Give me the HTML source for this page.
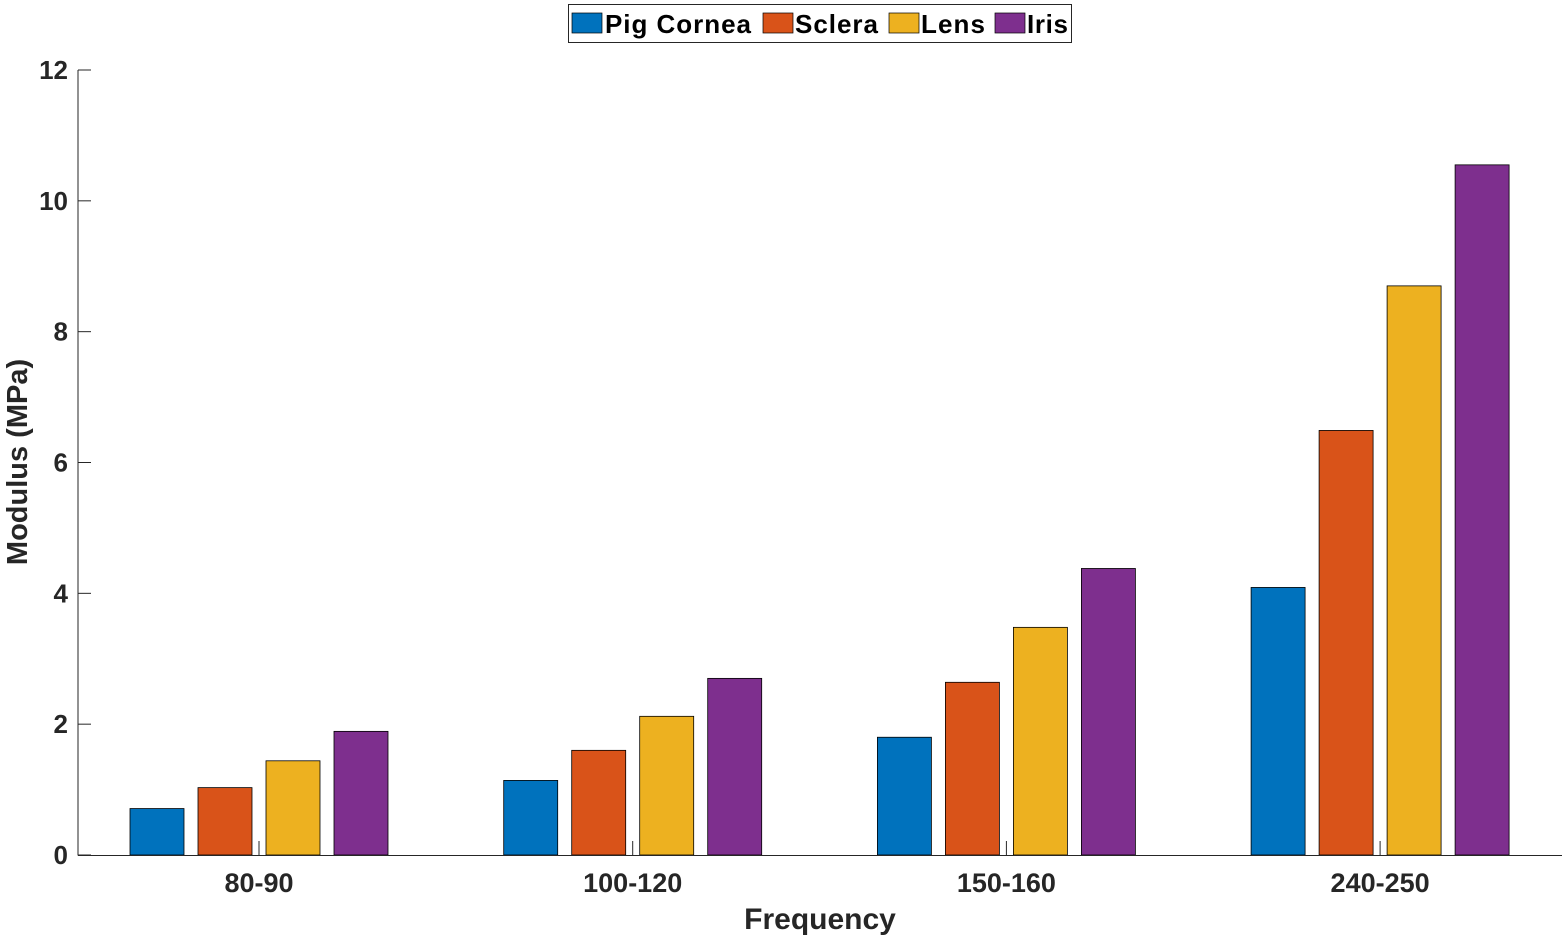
<!DOCTYPE html>
<html><head><meta charset="utf-8"><style>
html,body{margin:0;padding:0;background:#fff;}
svg{display:block;font-family:"Liberation Sans",Arial,sans-serif;}
</style></head><body>
<svg id="chart" width="1568" height="939" viewBox="0 0 1568 939" xmlns="http://www.w3.org/2000/svg">
<g id="bars"></g>
<g id="axes"></g>
<text x="820" y="929" font-size="30" font-weight="bold" text-anchor="middle" fill="#262626">Frequency</text>
<text transform="translate(27,462) rotate(-90)" font-size="29" font-weight="bold" text-anchor="middle" fill="#262626">Modulus (MPa)</text>
<g>
<rect x="568.5" y="4.5" width="503" height="38" fill="#fff" stroke="#262626" stroke-width="1"/>
<rect x="572" y="13" width="30" height="20" fill="#0072BD" stroke="#000" stroke-width="0.7"/>
<text x="605" y="33" font-size="26" font-weight="bold" textLength="146">Pig Cornea</text>
<rect x="763" y="13" width="30" height="20" fill="#D95319" stroke="#000" stroke-width="0.7"/>
<text x="795" y="33" font-size="26" font-weight="bold" textLength="83">Sclera</text>
<rect x="889" y="13" width="30" height="20" fill="#EDB120" stroke="#000" stroke-width="0.7"/>
<text x="921" y="33" font-size="26" font-weight="bold" textLength="64">Lens</text>
<rect x="995" y="13" width="30" height="20" fill="#7E2F8E" stroke="#000" stroke-width="0.7"/>
<text x="1027" y="33" font-size="26" font-weight="bold" textLength="41">Iris</text>
</g>
</svg>
<script>
const categories = ["80-90","100-120","150-160","240-250"];
const pigCornea = [0.71, 1.14, 1.80, 4.09];
const sclera = [1.03, 1.60, 2.64, 6.49];
const lens = [1.44, 2.12, 3.48, 8.70];
const iris = [1.89, 2.70, 4.38, 10.55];
const yTicks = [0,2,4,6,8,10,12];
const seriesNames = ["pig-cornea","sclera","lens","iris"];
const colors = ["#0072BD","#D95319","#EDB120","#7E2F8E"];

const NS="http://www.w3.org/2000/svg";
const x0=78, x1=1562, y0=855, yTop=70, yMax=12;
const yS=v=>y0-(v/yMax)*(y0-yTop);
const xC=i=>259+i*373.7;
const series=[pigCornea,sclera,lens,iris];
const bw=54, pitch=68;
const bars=document.getElementById('bars');
series.forEach((arr,s)=>{
  arr.forEach((v,i)=>{
    const r=document.createElementNS(NS,'rect');
    const cx=xC(i)+(s-1.5)*pitch;
    r.setAttribute('x',cx-bw/2);
    r.setAttribute('y',yS(v));
    r.setAttribute('width',bw);
    r.setAttribute('height',y0-yS(v));
    r.setAttribute('fill',colors[s]);
    r.setAttribute('stroke','#000');
    r.setAttribute('stroke-width','0.8');
    
    
    bars.appendChild(r);
  });
});
const ax=document.getElementById('axes');
function line(a,b,c,d,name){
  const l=document.createElementNS(NS,'line');
  l.setAttribute('x1',a);l.setAttribute('y1',b);l.setAttribute('x2',c);l.setAttribute('y2',d);
  l.setAttribute('stroke','#262626');l.setAttribute('stroke-width','1');
  
  
  ax.appendChild(l);
}
line(x0,yTop,x0,y0+0.5,'y-axis-line');
line(x0,y0+0.5,x1,y0+0.5,'x-axis-line');
yTicks.forEach(t=>{
  const y=yS(t);
  line(x0,y,x0+13,y,'y-tick');
  const tx=document.createElementNS(NS,'text');
  tx.setAttribute('x',x0-10);tx.setAttribute('y',y+9);
  tx.setAttribute('font-size','26');tx.setAttribute('font-weight','bold');
  tx.setAttribute('text-anchor','end');tx.setAttribute('fill','#262626');
  tx.textContent=t;
  
  
  ax.appendChild(tx);
});
categories.forEach((c,i)=>{
  const x=xC(i);
  line(x,y0,x,y0-14,'x-tick');
  const tx=document.createElementNS(NS,'text');
  tx.setAttribute('x',x);tx.setAttribute('y',892);
  tx.setAttribute('font-size','27');tx.setAttribute('font-weight','bold');
  tx.setAttribute('text-anchor','middle');tx.setAttribute('fill','#262626');
  tx.textContent=c;
  
  
  ax.appendChild(tx);
});
</script>
</body></html>
